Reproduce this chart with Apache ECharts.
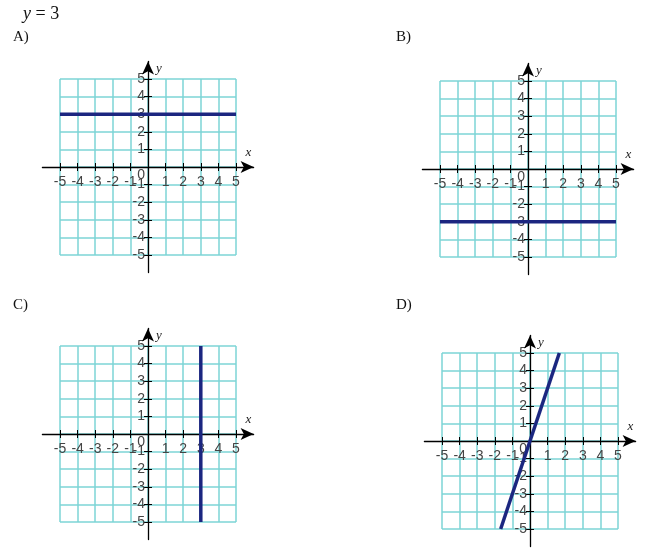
<!DOCTYPE html>
<html>
<head>
<meta charset="utf-8">
<script src="https://cdn.jsdelivr.net/npm/echarts@6/dist/echarts.min.js"></script>
<style>
  html, body { margin: 0; padding: 0; background: #fff; }
  #chart { width: 650px; height: 554px; }
</style>
</head>
<body>
<div id="chart"></div>
<script>
// answer choices for "y = 3"
var panelNames = ['A)', 'B)', 'C)', 'D)']
var tickVals = [-5, -4, -3, -2, -1, 1, 2, 3, 4, 5]
var yLabelVals = [-5, -4, -3, -2, -1, 0, 1, 2, 3, 4, 5]
var lineA = [[-5, 3], [5, 3]]
var lineB = [[-5, -3], [5, -3]]
var lineC = [[3, -5], [3, 5]]
var lineD = [[-5 / 3, -5], [5 / 3, 5]]
var lines = [lineA, lineB, lineC, lineD]

// where each panel's origin sits, and one grid unit in px
var unit = 17.6
var origins = [[148, 167], [528, 169], [148, 434], [530, 441]]
var labelPos = [[8, 25], [391, 25], [8, 293], [391, 293]]

var gridColor = '#7dd4d6'
var lineColor = '#1b2680'
var labelFont = 'Liberation Sans'

var grids = [], xAxes = [], yAxes = [], series = [], titles = []

titles.push({
    text: '{i|y} = 3',
    left: 18, top: 0,
    textStyle: {
        fontFamily: 'Liberation Serif', fontSize: 18, fontWeight: 'normal', color: '#111',
        rich: { i: { fontFamily: 'Liberation Serif', fontStyle: 'italic', fontSize: 18, color: '#111' } }
    }
})

// a bare axis through the middle of the outer grid, ticks only
function innerTicks(kind, gridIndex) {
    return {
        type: 'value', gridIndex: gridIndex, min: -6, max: 6, interval: 1,
        position: kind == 'x' ? 'bottom' : 'left', offset: -6 * unit,
        axisLine: { show: false, onZero: false },
        axisTick: { show: true, inside: true, length: 4, customValues: tickVals, lineStyle: { color: '#000' } },
        axisLabel: { show: false },
        splitLine: { show: false }
    }
}

for (var p = 0; p < 4; p++) {
    var cx = origins[p][0], cy = origins[p][1]

    titles.push({
        text: panelNames[p],
        left: labelPos[p][0], top: labelPos[p][1],
        textStyle: { fontFamily: 'Liberation Serif', fontSize: 15, fontWeight: 'normal', color: '#111' }
    })

    // inner square: the cyan lattice, -5..5
    grids.push({ left: cx - 5 * unit, top: cy - 5 * unit, width: 10 * unit, height: 10 * unit })
    // outer: the axes with arrows, -6..6
    grids.push({ left: cx - 6 * unit, top: cy - 6 * unit, width: 12 * unit, height: 12 * unit })

    var gi = p * 2
    xAxes.push({
        type: 'value', gridIndex: gi, min: -5, max: 5, interval: 1,
        axisLine: { show: false }, axisTick: { show: false }, axisLabel: { show: false },
        splitLine: { show: true, lineStyle: { color: gridColor, width: 1.5 } }
    })
    yAxes.push({
        type: 'value', gridIndex: gi, min: -5, max: 5, interval: 1,
        axisLine: { show: false }, axisTick: { show: false }, axisLabel: { show: false },
        splitLine: { show: true, lineStyle: { color: gridColor, width: 1.5 } }
    })
    series.push({
        type: 'line', xAxisIndex: xAxes.length - 1, yAxisIndex: yAxes.length - 1,
        data: lines[p], showSymbol: false, symbol: 'none',
        lineStyle: { color: lineColor, width: 3.5 }, z: 5
    })

    // axes pulled in from the edge to cross at the middle
    xAxes.push({
        type: 'value', gridIndex: gi + 1, min: -6, max: 6, interval: 1,
        position: 'bottom', offset: -6 * unit,
        name: 'x', nameLocation: 'end', nameGap: -8,
        nameTextStyle: {
            fontFamily: 'Liberation Serif', fontStyle: 'italic', fontSize: 13, color: '#222',
            verticalAlign: 'bottom', padding: [0, 0, 8, 0]
        },
        axisLine: {
            show: true, onZero: false, lineStyle: { color: '#000', width: 1.3 },
            symbol: ['none', 'arrow'], symbolSize: [9, 13]
        },
        axisTick: { show: true, length: 4, customValues: tickVals, lineStyle: { color: '#000' } },
        axisLabel: {
            show: true, customValues: tickVals, margin: 8,
            fontFamily: labelFont, fontSize: 14, color: '#444'
        },
        splitLine: { show: false }
    })
    yAxes.push({
        type: 'value', gridIndex: gi + 1, min: -6, max: 6, interval: 1,
        position: 'left', offset: -6 * unit,
        name: 'y', nameLocation: 'end', nameGap: -14,
        nameTextStyle: {
            fontFamily: 'Liberation Serif', fontStyle: 'italic', fontSize: 13, color: '#222',
            align: 'left', padding: [0, 0, 0, 8]
        },
        axisLine: {
            show: true, onZero: false, lineStyle: { color: '#000', width: 1.3 },
            symbol: ['none', 'arrow'], symbolSize: [9, 13]
        },
        axisTick: { show: true, length: 4, customValues: tickVals, lineStyle: { color: '#000' } },
        axisLabel: {
            show: true, customValues: yLabelVals, margin: 3,
            fontFamily: labelFont, fontSize: 14, color: '#444',
            // the origin "0" sits just below-left of the crossing
            formatter: function (v) { return v === 0 ? '{o|0}' : String(v) },
            rich: { o: { fontFamily: labelFont, fontSize: 14, color: '#444', padding: [16, 0, 0, 0] } }
        },
        splitLine: { show: false }
    })
    xAxes.push(innerTicks('x', gi + 1))
    yAxes.push(innerTicks('y', gi + 1))
}

var myChart = echarts.init(document.getElementById('chart'))
myChart.setOption({
    animation: false,
    title: titles,
    grid: grids,
    xAxis: xAxes,
    yAxis: yAxes,
    series: series
})
</script>
</body>
</html>
